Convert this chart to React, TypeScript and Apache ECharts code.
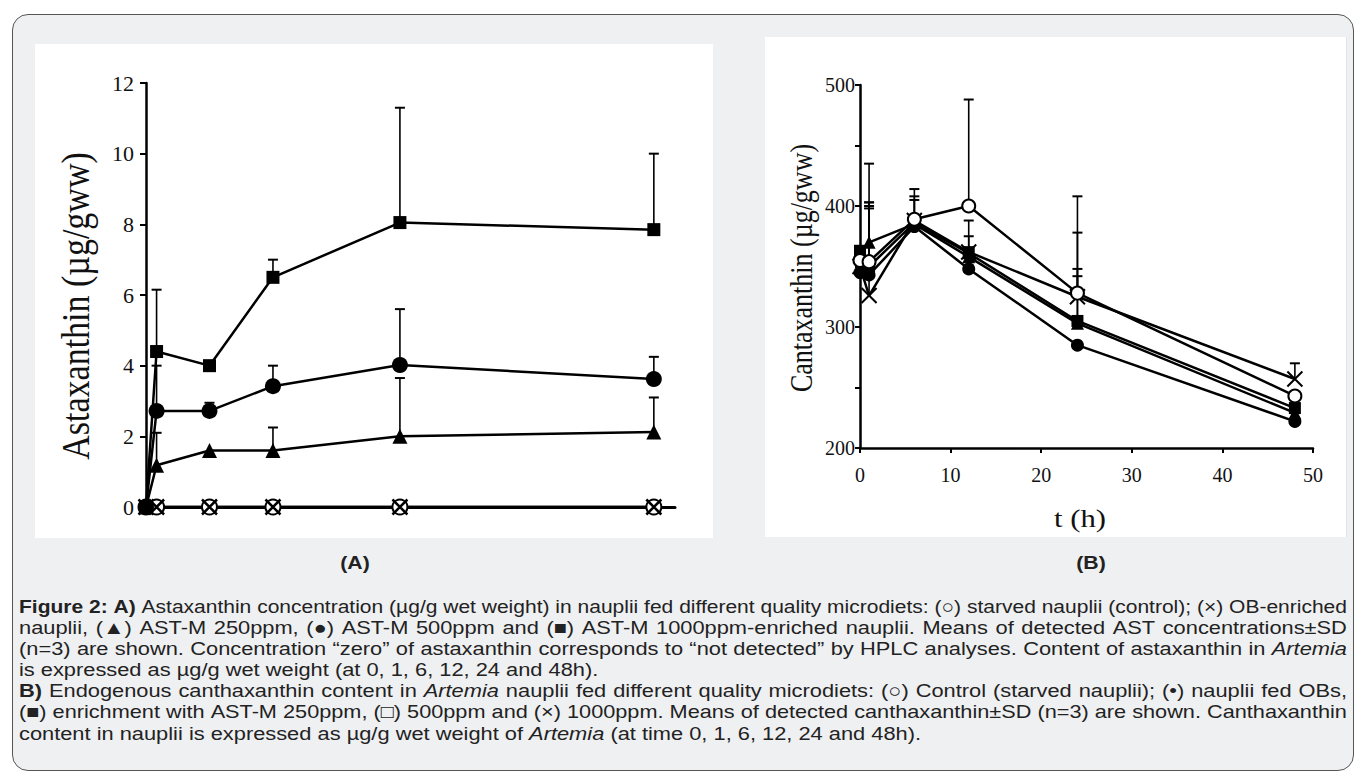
import React, { useEffect, useRef } from "react";
import * as echarts from "echarts";

// ---------- data ----------
const hours = [0, 1, 6, 12, 24, 48];

// Panel A: astaxanthin (µg/gww)
const aM1000 = [0, 4.4, 4.0, 6.5, 8.05, 7.85];
const aM1000Hi = [null, 6.15, null, 7.0, 11.3, 10.0];
const aM500 = [0, 2.72, 2.72, 3.42, 4.02, 3.62];
const aM500Hi = [null, 4.0, 2.95, 4.0, 5.6, 4.25];
const aM250 = [0, 1.18, 1.6, 1.6, 2.0, 2.12];
const aM250Hi = [null, 2.1, null, 2.25, 3.65, 3.1];
const aControl = [0, 0, 0, 0, 0, 0];
const aOB = [0, 0, 0, 0, 0, 0];

// Panel B: cantaxanthin (µg/gww)
const bControl = [355, 354, 389, 400, 328, 243];
const bControlHi = [null, 435, 408, 488, 408, null];
const bOB = [345, 343, 383, 348, 285, 222];
const bOBHi = [null, 400, 405, null, null, null];
const bM250 = [363, 350, 386, 361, 305, 233];
const bM250Hi = [null, 403, 414, 388, 348, null];
const bM500 = [363, 370, 385, 358, 303, 229];
const bM500Hi = [null, 398, null, 366, 342, null];
const bM1000 = [350, 326, 388, 362, 325, 257];
const bM1000Hi = [null, 403, null, 375, 378, 270];

const aYTitle = "Astaxanthin (µg/gww)";
const bYTitle = "Cantaxanthin (µg/gww)";
const bXTitle = "t (h)";

type Seg = { t: string; b?: boolean; i?: boolean };
const captionLines: Seg[][] = [
  [{ t: "Figure 2: A)", b: true }, { t: " Astaxanthin concentration (µg/g wet weight) in nauplii fed different quality microdiets: (○) starved nauplii (control); (×) OB-enriched" }],
  [{ t: "nauplii, (▲) AST-M 250ppm, (●) AST-M 500ppm and (■) AST-M 1000ppm-enriched nauplii. Means of detected AST concentrations±SD" }],
  [{ t: "(n=3) are shown. Concentration “zero” of astaxanthin corresponds to “not detected” by HPLC analyses. Content of astaxanthin in " }, { t: "Artemia", i: true }],
  [{ t: "is expressed as µg/g wet weight (at 0, 1, 6, 12, 24 and 48h)." }],
  [{ t: "B)", b: true }, { t: " Endogenous canthaxanthin content in " }, { t: "Artemia", i: true }, { t: " nauplii fed different quality microdiets: (○) Control (starved nauplii); (•) nauplii fed OBs," }],
  [{ t: "(■) enrichment with AST-M 250ppm, (□) 500ppm and (×) 1000ppm. Means of detected canthaxanthin±SD (n=3) are shown. Canthaxanthin" }],
  [{ t: "content in nauplii is expressed as µg/g wet weight of " }, { t: "Artemia", i: true }, { t: " (at time 0, 1, 6, 12, 24 and 48h)." }],
];
const captionJustify = [true, true, true, false, true, true, false];

const CROSS = "path://M2 2L18 18M18 2L2 18";
const SERIF = '"Liberation Serif"';
const SANS = '"Liberation Sans"';
const CAP_FS = 18.5;
const STRETCH = 1.18; // the source figure is widened horizontally

function pairs(vals: (number | null)[]) {
  return hours.map((t, i) => [t, vals[i]]);
}
function errData(vals: number[], hi: (number | null)[]) {
  const out: number[][] = [];
  hours.forEach((t, i) => {
    if (hi[i] != null) out.push([t, vals[i], hi[i] as number]);
  });
  return out;
}

function lineSeries(grid: number, vals: number[], symbol: string, size: number, border = 0) {
  return {
    type: "line",
    xAxisIndex: grid,
    yAxisIndex: grid,
    data: pairs(vals),
    symbol,
    symbolSize: size,
    showSymbol: true,
    z: 5,
    lineStyle: { color: "#000", width: 2.5 },
    itemStyle: { color: "#000", borderColor: "#000", borderWidth: border },
  };
}

function errSeries(grid: number, vals: number[], hi: (number | null)[]) {
  return {
    type: "custom",
    xAxisIndex: grid,
    yAxisIndex: grid,
    z: 4,
    data: errData(vals, hi),
    encode: { x: 0, y: [1, 2] },
    renderItem: (params: any, api: any) => {
      const x = api.value(0);
      const p1 = api.coord([x, api.value(1)]);
      const p2 = api.coord([x, api.value(2)]);
      return {
        type: "group",
        children: [
          { type: "line", shape: { x1: p1[0], y1: p1[1], x2: p2[0], y2: p2[1] }, style: { stroke: "#000", lineWidth: 1.6 } },
          { type: "line", shape: { x1: p2[0] - 5, y1: p2[1], x2: p2[0] + 5, y2: p2[1] }, style: { stroke: "#000", lineWidth: 2 } },
        ],
      };
    },
  };
}

function buildCaption(): any[] {
  const ctx = document.createElement("canvas").getContext("2d") as CanvasRenderingContext2D;
  const fontOf = (s: Seg, fs: number) => `${s.i ? "italic " : ""}${s.b ? "bold " : ""}${fs}px ${SANS}`;
  const meas = (s: Seg, fs: number) => {
    ctx.font = fontOf(s, fs);
    return ctx.measureText(s.t).width;
  };
  const left = 19;
  const right = 1347;
  const fs = CAP_FS;
  const out: any[] = [];
  captionLines.forEach((line, li) => {
    const words: Seg[][] = [[]];
    line.forEach((seg) => {
      const parts = seg.t.split(" ");
      parts.forEach((p, k) => {
        if (k > 0) words.push([]);
        if (p) words[words.length - 1].push({ ...seg, t: p });
      });
    });
    const ws = words.filter((w) => w.length > 0);
    const widths = ws.map((w) => w.reduce((a, s) => a + meas(s, fs), 0));
    const total = widths.reduce((a, b) => a + b, 0);
    const space = meas({ t: " " }, fs);
    const natural = total + space * (ws.length - 1);
    let sx = STRETCH;
    if (natural * sx > right - left) sx = (right - left) / natural;
    let gap = space * sx;
    if (captionJustify[li] && ws.length > 1) gap = (right - left - total * sx) / (ws.length - 1);
    let x = left;
    const y = 606 + li * 21.2;
    ws.forEach((w, wi) => {
      let xx = x;
      w.forEach((s) => {
        out.push({
          type: "text",
          x: xx,
          y,
          scaleX: sx,
          silent: true,
          style: {
            text: s.t,
            fill: "#222",
            fontSize: fs,
            fontFamily: SANS,
            fontWeight: s.b ? "bold" : "normal",
            fontStyle: s.i ? "italic" : "normal",
            textAlign: "left",
            textVerticalAlign: "middle",
          },
        });
        xx += meas(s, fs) * sx;
      });
      x += widths[wi] * sx + gap;
    });
  });
  return out;
}

export default function App() {
  const ref = useRef<HTMLDivElement>(null);
  useEffect(() => {
    if (!ref.current) return;
    const chart = echarts.init(ref.current, null, { renderer: "svg" });
    const axisLabelA = { fontFamily: SERIF, fontSize: 22, color: "#111", margin: 12 };
    const axisLabelB = { fontFamily: SERIF, fontSize: 20, color: "#111" };
    const caption = buildCaption();
    const option: any = {
      animation: false,
      backgroundColor: "transparent",
      grid: [
        { left: 146, top: 83, width: 529, height: 424 },
        { left: 860, top: 85, width: 453, height: 363 },
      ],
      xAxis: [
        {
          gridIndex: 0, type: "value", min: 0, max: 50,
          axisLine: { show: true, lineStyle: { color: "#000", width: 3 } },
          axisTick: { show: false }, axisLabel: { show: false }, splitLine: { show: false },
        },
        {
          gridIndex: 1, type: "value", min: 0, max: 50, interval: 10,
          axisLine: { show: true, lineStyle: { color: "#000", width: 2.5 } },
          axisTick: { show: true, length: 5, lineStyle: { color: "#000", width: 2 } },
          axisLabel: { ...axisLabelB, margin: 17 }, splitLine: { show: false },
        },
      ],
      yAxis: [
        {
          gridIndex: 0, type: "value", min: 0, max: 12, interval: 2,
          axisLine: { show: true, lineStyle: { color: "#000", width: 2.5 } },
          axisTick: { show: true, length: 6, lineStyle: { color: "#000", width: 2 } },
          axisLabel: axisLabelA, splitLine: { show: false },
        },
        {
          gridIndex: 1, type: "value", min: 200, max: 500, interval: 50,
          axisLine: { show: true, lineStyle: { color: "#000", width: 2.5 } },
          axisTick: { show: true, length: 5, lineStyle: { color: "#000", width: 2 } },
          axisLabel: { ...axisLabelB, margin: 5, formatter: (v: number) => (v % 100 === 0 ? String(v) : "") },
          splitLine: { show: false },
        },
      ],
      series: [
        errSeries(0, aM1000, aM1000Hi),
        errSeries(0, aM500, aM500Hi),
        errSeries(0, aM250, aM250Hi),
        lineSeries(0, aControl, "emptyCircle", 15, 2.5),
        lineSeries(0, aOB, CROSS, 15, 2.5),
        lineSeries(0, aM250, "triangle", 15),
        lineSeries(0, aM500, "circle", 16),
        lineSeries(0, aM1000, "rect", 13),
        errSeries(1, bControl, bControlHi),
        errSeries(1, bOB, bOBHi),
        errSeries(1, bM250, bM250Hi),
        errSeries(1, bM500, bM500Hi),
        errSeries(1, bM1000, bM1000Hi),
        lineSeries(1, bM1000, CROSS, 15, 2),
        lineSeries(1, bM500, "triangle", 13),
        lineSeries(1, bM250, "rect", 12),
        lineSeries(1, bOB, "circle", 13),
        lineSeries(1, bControl, "emptyCircle", 13, 2),
      ],
      graphic: [
        {
          type: "text", x: 76, y: 306, rotation: Math.PI / 2, scaleY: STRETCH, silent: true,
          style: { text: aYTitle, fontFamily: SERIF, fontSize: 34, fill: "#111", textAlign: "center", textVerticalAlign: "middle" },
        },
        {
          type: "text", x: 802, y: 268, rotation: Math.PI / 2, scaleY: STRETCH, silent: true,
          style: { text: bYTitle, fontFamily: SERIF, fontSize: 26, fill: "#111", textAlign: "center", textVerticalAlign: "middle" },
        },
        {
          type: "text", x: 1080, y: 518, scaleX: STRETCH, silent: true,
          style: { text: bXTitle, fontFamily: SERIF, fontSize: 26, fill: "#111", textAlign: "center", textVerticalAlign: "middle" },
        },
        {
          type: "text", x: 355, y: 563, scaleX: STRETCH, silent: true,
          style: { text: "(A)", fontFamily: SANS, fontSize: 18, fontWeight: "bold", fill: "#222", textAlign: "center", textVerticalAlign: "middle" },
        },
        {
          type: "text", x: 1091, y: 563, scaleX: STRETCH, silent: true,
          style: { text: "(B)", fontFamily: SANS, fontSize: 18, fontWeight: "bold", fill: "#222", textAlign: "center", textVerticalAlign: "middle" },
        },
        ...caption,
      ],
    };
    chart.setOption(option);
    return () => chart.dispose();
  }, []);

  return (
    <div style={{ position: "fixed", left: 0, top: 0, width: 1367, height: 774, background: "#fff", overflow: "hidden" }}>
      <div style={{ position: "absolute", left: 12, top: 14, width: 1342, height: 757, boxSizing: "border-box", border: "1px solid #555", borderRadius: 16, background: "#eff0f2" }} />
      <div style={{ position: "absolute", left: 35, top: 44, width: 678, height: 494, background: "#fff" }} />
      <div style={{ position: "absolute", left: 765, top: 37, width: 581, height: 500, background: "#fff", boxShadow: "1px 0 0 #e2e3e6" }} />
      <div ref={ref} style={{ position: "absolute", left: 0, top: 0, width: 1367, height: 774 }} />
    </div>
  );
}
